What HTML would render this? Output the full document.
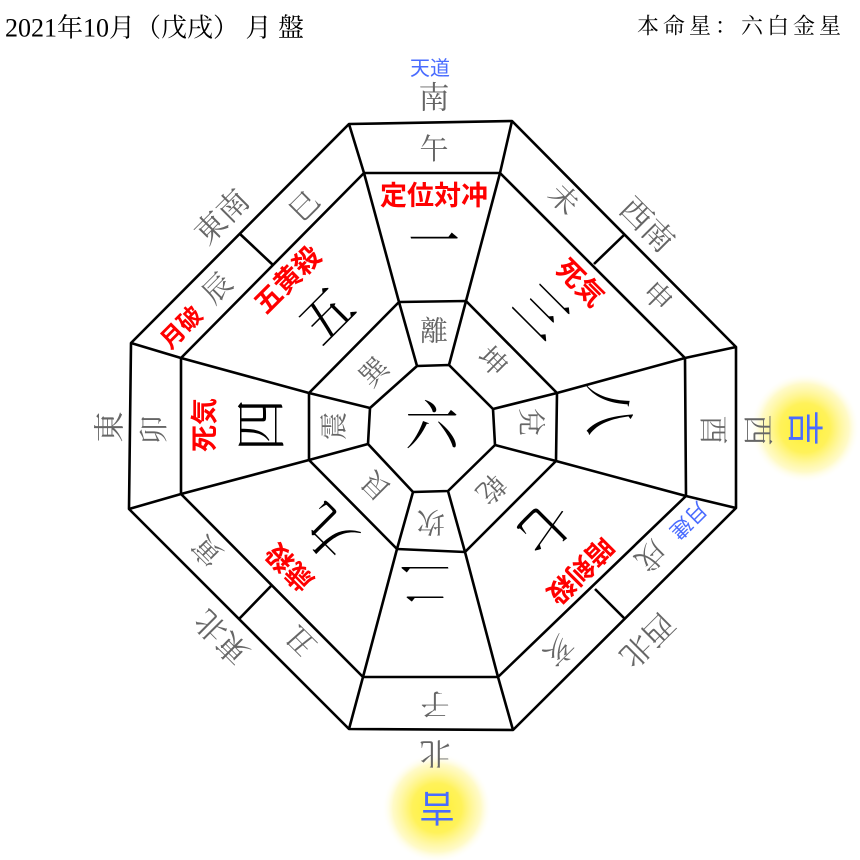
<!DOCTYPE html>
<html><head><meta charset="utf-8"><style>
html,body{margin:0;padding:0;background:#fff;}
svg{display:block;}
.g{fill:#666;font-family:"Liberation Serif","Noto Serif CJK SC",serif;}
.s{fill:#000;font-family:"Liberation Serif","Noto Serif CJK SC",serif;}
.r{fill:#f00;font-family:"Liberation Sans","Noto Sans CJK JP",sans-serif;font-weight:bold;}
.b{fill:#4a6cff;font-family:"Liberation Sans","Noto Sans CJK JP",sans-serif;}
text{text-anchor:middle;dominant-baseline:central;}
</style></head><body>
<svg width="860" height="860" viewBox="0 0 860 860" xmlns="http://www.w3.org/2000/svg">
<defs>
<radialGradient id="gl"><stop offset="0" stop-color="#fff033"/><stop offset="0.45" stop-color="#fff25a"/><stop offset="0.8" stop-color="#fff8b0" stop-opacity="0.7"/><stop offset="1" stop-color="#fff" stop-opacity="0"/></radialGradient>
</defs>
<circle cx="805" cy="428" r="55" fill="url(#gl)"/>
<circle cx="437" cy="808" r="55" fill="url(#gl)"/>
<text x="5" y="28" class="s" style="text-anchor:start;font-size:26px">2021年10月（戊戌） 月 盤</text>
<text x="845" y="26" class="s" style="text-anchor:end;font-size:22px;letter-spacing:4px">本命星：六白金星</text>
<g fill="none" stroke="#000" stroke-width="2.6" stroke-linejoin="round">
<polygon points="349,124 512,121 736,347 736,508 513,730 349,729 129,509 131,343"/>
<polygon points="364,173 500,173 685,358 686,496 498,677 363,677 181,494 181,358"/>
<polygon points="399,302 466,301 557,393 556,461 465,552 397,549 309,460 309,393"/>
<polygon points="417,366 449,365 493,409 495,445 448,491 413,492 368,444 370,408"/>
<path d="M349,124L364,173M512,121L500,173M736,347L685,358M736,508L686,496M513,730L498,677M349,729L363,677M129,509L181,494M131,343L181,358"/>
<path d="M364,173L399,302M500,173L466,301M685,358L557,393M686,496L556,461M498,677L465,552M363,677L397,549M181,494L309,460M181,358L309,393"/>
<path d="M399,302L417,366M466,301L449,365M557,393L493,409M556,461L495,445M465,552L448,491M397,549L413,492M309,460L368,444M309,393L370,408"/>
<path d="M240,234L273,265M624,235L594,264M595,589L624,618M239,619L271,586"/>
</g>
<text x="430" y="69" class="b" style="font-size:20px">天道</text>
<text x="434" y="98" class="g" style="font-size:31px">南</text>
<text x="435" y="753" class="g" style="font-size:31px" transform="rotate(180 435 753)">北</text>
<text x="110" y="427" class="g" style="font-size:31px" transform="rotate(-90 110 427)">東</text>
<text x="757" y="430" class="g" style="font-size:31px" transform="rotate(90 757 430)">西</text>
<text x="222" y="217" class="g" style="font-size:31px" transform="rotate(-45 222 217)">東南</text>
<text x="647" y="225" class="g" style="font-size:31px" transform="rotate(45 647 225)">西南</text>
<text x="222" y="637" class="g" style="font-size:31px" transform="rotate(225 222 637)">東北</text>
<text x="647" y="640" class="g" style="font-size:31px" transform="rotate(135 647 640)">西北</text>
<text x="434" y="150" class="g" style="font-size:29px">午</text>
<text x="563" y="200" class="g" style="font-size:29px" transform="rotate(45 563 200)">未</text>
<text x="657" y="297" class="g" style="font-size:29px" transform="rotate(45 657 297)">申</text>
<text x="712" y="430" class="g" style="font-size:29px" transform="rotate(90 712 430)">酉</text>
<text x="650" y="555" class="g" style="font-size:29px" transform="rotate(135 650 555)">戌</text>
<text x="688" y="520" class="b" style="font-size:21px" transform="rotate(135 688 520)">月建</text>
<text x="558" y="650" class="g" style="font-size:29px" transform="rotate(135 558 650)">亥</text>
<text x="435" y="703" class="g" style="font-size:29px" transform="rotate(180 435 703)">子</text>
<text x="302" y="640" class="g" style="font-size:29px" transform="rotate(225 302 640)">丑</text>
<text x="208" y="550" class="g" style="font-size:29px" transform="rotate(225 208 550)">寅</text>
<text x="155" y="430" class="g" style="font-size:29px" transform="rotate(-90 155 430)">卯</text>
<text x="218" y="289" class="g" style="font-size:29px" transform="rotate(-45 218 289)">辰</text>
<text x="182" y="328" class="r" style="font-size:24px" transform="rotate(-45 182 328)">月破</text>
<text x="305" y="207" class="g" style="font-size:29px" transform="rotate(-45 305 207)">巳</text>
<text x="432" y="427" class="s" style="font-size:54px">六</text>
<text x="434" y="243" class="s" style="font-size:52px">一</text>
<text x="540" y="313" class="s" style="font-size:52px" transform="rotate(45 540 313)">三</text>
<text x="607" y="410" class="s" style="font-size:52px" transform="rotate(90 607 410)">八</text>
<text x="543" y="525" class="s" style="font-size:52px" transform="rotate(135 543 525)">七</text>
<text x="425" y="580" class="s" style="font-size:52px" transform="rotate(180 425 580)">二</text>
<text x="330" y="530" class="s" style="font-size:52px" transform="rotate(225 330 530)">九</text>
<text x="263" y="425" class="s" style="font-size:52px" transform="rotate(-90 263 425)">四</text>
<text x="328" y="317" class="s" style="font-size:52px" transform="rotate(-45 328 317)">五</text>
<text x="434" y="196" class="r" style="font-size:27px">定位対冲</text>
<text x="580" y="283" class="r" style="font-size:27px" transform="rotate(45 580 283)">死気</text>
<text x="288" y="280" class="r" style="font-size:27px" transform="rotate(-45 288 280)">五黄殺</text>
<text x="205" y="425" class="r" style="font-size:27px" transform="rotate(-90 205 425)">死気</text>
<text x="290" y="567" class="r" style="font-size:27px" transform="rotate(225 290 567)">歳殺</text>
<text x="580" y="570" class="r" style="font-size:27px" transform="rotate(135 580 570)">暗剣殺</text>
<text x="434" y="332" class="g" style="font-size:28px">離</text>
<text x="492" y="362" class="g" style="font-size:28px" transform="rotate(45 492 362)">坤</text>
<text x="530" y="422" class="g" style="font-size:28px" transform="rotate(90 530 422)">兌</text>
<text x="490" y="488" class="g" style="font-size:28px" transform="rotate(135 490 488)">乾</text>
<text x="431" y="521" class="g" style="font-size:28px" transform="rotate(180 431 521)">坎</text>
<text x="377" y="485" class="g" style="font-size:28px" transform="rotate(225 377 485)">艮</text>
<text x="335" y="426" class="g" style="font-size:28px" transform="rotate(-90 335 426)">震</text>
<text x="375" y="373" class="g" style="font-size:28px" transform="rotate(-45 375 373)">巽</text>
<text x="805" y="428" class="b" style="font-size:36px" transform="rotate(90 805 428)">吉</text>
<text x="437" y="808" class="b" style="font-size:36px" transform="rotate(180 437 808)">吉</text>
</svg>
</body></html>
